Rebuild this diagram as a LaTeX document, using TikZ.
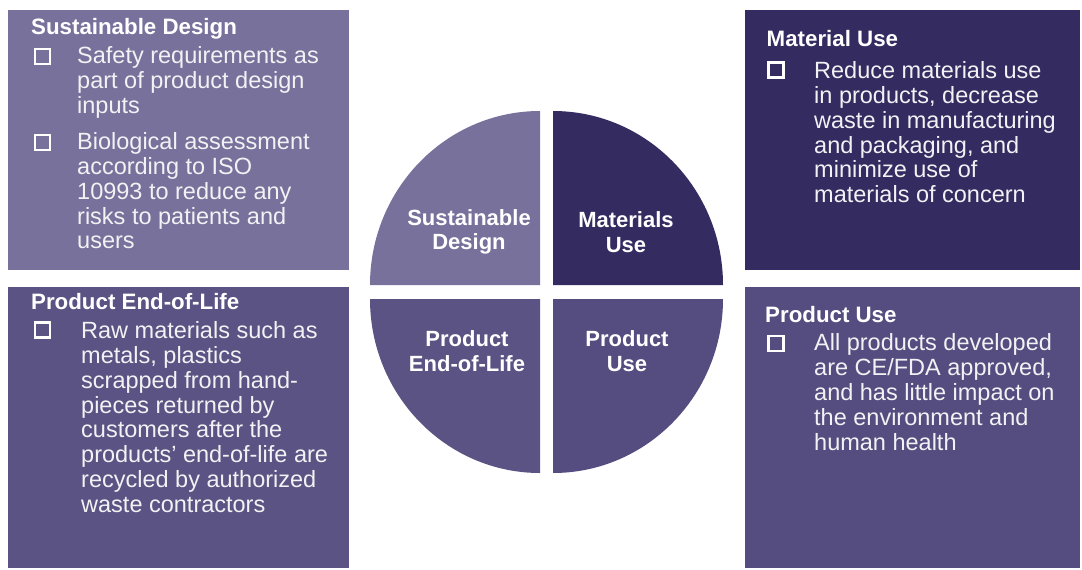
\documentclass[tikz,border=0pt]{standalone}
\usepackage{fontspec}
\setmainfont{Liberation Sans}
\usepackage{xcolor}

\definecolor{designc}{HTML}{78719C}
\definecolor{materialc}{HTML}{342B61}
\definecolor{endlifec}{HTML}{5B5383}
\definecolor{usec}{HTML}{554D80}
\definecolor{textc}{HTML}{F2F2F4}

\tikzset{
  boxtitle/.style={anchor=north west, inner sep=0pt, text=white, font=\fontsize{22.3}{25}\selectfont\bfseries},
  boxbody/.style={anchor=north west, inner sep=0pt, text=textc, align=left, font=\fontsize{23.5}{24.8}\selectfont},
  boxmark/.style={anchor=north west, draw=white, line width=2.3pt, minimum width=15.2pt, minimum height=15.2pt, inner sep=0pt},
  quadlabel/.style={text=white, align=center, font=\fontsize{22}{24.5}\selectfont\bfseries},
}

\begin{document}
\begin{tikzpicture}[x=1pt, y=-1pt]
\useasboundingbox (0,0) rectangle (1082,570);

\fill[designc] (8,10) rectangle (349,270);
\fill[endlifec] (8,287) rectangle (349,568);
\fill[materialc] (745,10) rectangle (1080,270);
\fill[usec] (745,287) rectangle (1080,568);

\fill[designc] (540,285) -- (370,285) arc[start angle=180, end angle=270, x radius=170, y radius=174] -- cycle;
\fill[materialc] (553,285) -- (553,111) arc[start angle=270, end angle=360, x radius=170, y radius=174] -- cycle;
\fill[usec] (553,299) -- (723,299) arc[start angle=0, end angle=90, x radius=170, y radius=174] -- cycle;
\fill[endlifec] (540,299) -- (540,473) arc[start angle=90, end angle=180, x radius=170, y radius=174] -- cycle;

\node[quadlabel] (qdesign) at (469,232) {Sustainable\\Design};
\node[quadlabel] (qmaterial) at (626,232) {Materials\\Use};
\node[quadlabel] (qendlife) at (467,351) {Product\\End-of-Life};
\node[quadlabel] (quse) at (627,351) {Product\\Use};

\node[boxtitle] (tdesign) at (31,18) {Sustainable Design};
\node[boxmark] (mdesignA) at (33.5,47.8) {};
\node[boxbody] (bdesignA) at (77,46.5) {Safety requirements as\\part of product design\\inputs};
\node[boxmark] (mdesignB) at (33.5,133.5) {};
\node[boxbody] (bdesignB) at (77,132.5) {Biological assessment\\according to ISO\\10993 to reduce any\\risks to patients and\\users};

\node[boxtitle] (tendlife) at (31,293) {Product End-of-Life};
\node[boxmark] (mendlife) at (33.5,321.2) {};
\node[boxbody] (bendlife) at (81,321.5) {Raw materials such as\\metals, plastics\\scrapped from hand-\\pieces returned by\\customers after the\\products’ end-of-life are\\recycled by authorized\\waste contractors};

\node[boxtitle] (tmaterial) at (766.5,30.3) {Material Use};
\node[boxmark] (mmaterial) at (767.2,61.2) {};
\node[boxbody] (bmaterial) at (814,61.5) {Reduce materials use\\in products, decrease\\waste in manufacturing\\and packaging, and\\minimize use of\\materials of concern};

\node[boxtitle] (tuse) at (765,306.5) {Product Use};
\node[boxmark] (muse) at (767.2,334.9) {};
\node[boxbody] (buse) at (814,333.7) {All products developed\\are CE/FDA approved,\\and has little impact on\\the environment and\\human health};
\end{tikzpicture}
\end{document}
